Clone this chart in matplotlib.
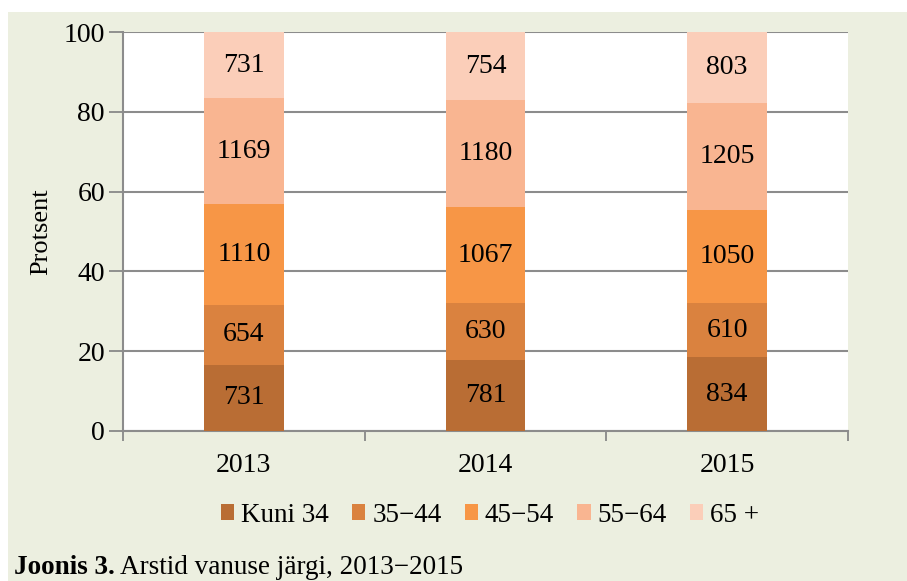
import matplotlib
matplotlib.use("Agg")
import matplotlib.pyplot as plt
from matplotlib.patches import Rectangle
import numpy as np

years = ["2013", "2014", "2015"]
groups = ["Kuni 34", "35\u221244", "45\u221254", "55\u221264", "65 +"]
counts = {
    "Kuni 34": [731, 781, 834],
    "35\u221244": [654, 630, 610],
    "45\u221254": [1110, 1067, 1050],
    "55\u221264": [1169, 1180, 1205],
    "65 +": [731, 754, 803],
}
colors = ["#B96D34", "#DA823F", "#F79646", "#F9B591", "#FBCEB9"]
yticks = [0, 20, 40, 60, 80, 100]
caption_bold = "Joonis 3."
caption_rest = "Arstid vanuse järgi, 2013\u22122015"

plt.rcParams['font.family'] = ['Liberation Serif', 'DejaVu Serif']

fig = plt.figure(figsize=(9.07, 5.81), dpi=100)
fig.patch.set_facecolor("white")
bg = Rectangle((8/907, 0), 1, (581-12)/581, transform=fig.transFigure,
               facecolor="#ECEFE0", edgecolor="none", zorder=-10)
fig.patches.append(bg)

ax = fig.add_axes([123/907, 150/581, (848-123)/907, (431-32)/581])
ax.set_facecolor("white")

x = np.arange(len(years))
mat = np.array([counts[g] for g in groups], dtype=float)
totals = mat.sum(axis=0)
pct = mat / totals * 100
bottom = np.zeros(len(years))
for i, g in enumerate(groups):
    ax.bar(x, pct[i], 0.33, bottom=bottom, color=colors[i], label=g, zorder=3,
           edgecolor="none")
    for j in range(len(years)):
        ax.text(x[j], bottom[j] + pct[i][j] / 2, f"{int(mat[i][j])}",
                ha="center", va="center", fontsize=20, color="black", zorder=4)
    bottom += pct[i]

ax.set_xlim(-0.5, 2.5)
ax.set_ylim(0, 100)
ax.set_yticks(yticks)
ax.set_yticklabels([str(t) for t in yticks], fontsize=20)
ax.set_xticks(x)
ax.set_xticklabels(years, fontsize=20)
ax.tick_params(axis="x", which="major", length=0, pad=16)
ax.set_xticks([-0.5, 0.5, 1.5, 2.5], minor=True)
ax.tick_params(axis="x", which="minor", length=7, width=1.3, color="#888888")
ax.tick_params(axis="y", length=10, width=1.3, color="#888888", pad=3)
ax.yaxis.grid(True, color="#8C8C8C", linewidth=1.5, zorder=0)
ax.set_axisbelow(True)
for s in ["top", "right"]:
    ax.spines[s].set_visible(False)
for s in ["left", "bottom"]:
    ax.spines[s].set_color("#8C8C8C")
    ax.spines[s].set_linewidth(1.5)
ax.set_ylabel("Protsent", fontsize=19, labelpad=8)

leg = fig.legend(loc="center", bbox_to_anchor=(490/907, 1 - 515/581), ncol=5,
                 frameon=False, fontsize=19.5, handlelength=0.5, handleheight=0.5,
                 handletextpad=0.25, columnspacing=0.85)

t1 = fig.text(14/907, 1 - 574/581, caption_bold, fontsize=19.5, fontweight="bold",
              ha="left", va="baseline")
fig.canvas.draw()
bb = t1.get_window_extent()
space = 5
fig.text((bb.x1 + space) / 907, 1 - 574/581, caption_rest, fontsize=19.5,
         ha="left", va="baseline")

fig.savefig("out.png", dpi=100, facecolor=fig.get_facecolor())
